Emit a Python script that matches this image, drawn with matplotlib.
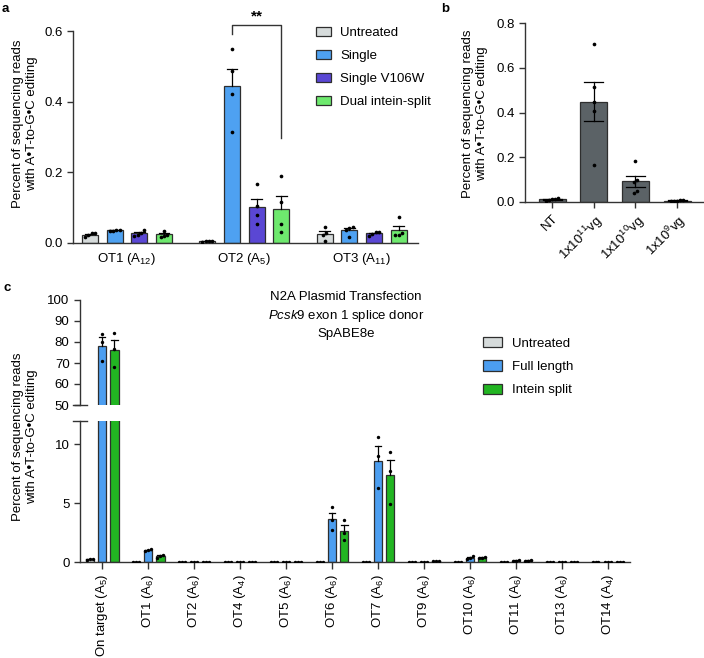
import numpy as np
import matplotlib.pyplot as plt
from matplotlib.patches import Patch

plt.rcParams['font.family'] = ['Liberation Sans', 'DejaVu Sans']
plt.rcParams['mathtext.fontset'] = 'custom'
plt.rcParams['mathtext.rm'] = 'Liberation Sans'
plt.rcParams['mathtext.it'] = 'Liberation Sans:italic'
plt.rcParams['font.size'] = 9.5
plt.rcParams['axes.linewidth'] = 1.0
plt.rcParams['axes.edgecolor'] = '#333333'
plt.rcParams['xtick.color'] = '#333333'
plt.rcParams['ytick.color'] = '#333333'
plt.rcParams['xtick.labelcolor'] = 'black'
plt.rcParams['ytick.labelcolor'] = 'black'

EDGE = '#2e2e2e'

# ---- panel a data ----
a_sites = [r'OT1 (A$_{\mathregular{12}}$)', r'OT2 (A$_{\mathregular{5}}$)', r'OT3 (A$_{\mathregular{11}}$)']
a_groups = ['Untreated', 'Single', 'Single V106W', 'Dual intein-split']
a_colors = ['#d6dbdb', '#4ea1f1', '#5a47d4', '#6ee96e']
a_untreated = [[0.016, 0.022, 0.027, 0.029], [0.004, 0.005, 0.006, 0.006], [0.005, 0.022, 0.028, 0.045]]
a_single = [[0.034, 0.035, 0.036, 0.037], [0.548, 0.486, 0.423, 0.315], [0.018, 0.036, 0.042, 0.046]]
a_v106w = [[0.020, 0.024, 0.028, 0.036], [0.167, 0.105, 0.080, 0.055], [0.020, 0.026, 0.030, 0.032]]
a_dual = [[0.018, 0.021, 0.024, 0.034], [0.190, 0.115, 0.055, 0.030], [0.022, 0.024, 0.028, 0.073]]

# ---- panel b data ----
b_doses = ['NT', r'1x10$^{\mathregular{11}}$vg', r'1x10$^{\mathregular{10}}$vg', r'1x10$^{\mathregular{9}}$vg']
b_points = [[0.004, 0.008, 0.010, 0.014, 0.018],
            [0.707, 0.514, 0.449, 0.407, 0.166],
            [0.182, 0.098, 0.088, 0.048, 0.040],
            [0.001, 0.004, 0.006, 0.008, 0.005]]

# ---- panel c data ----
c_sites = [r'On target (A$_{\mathregular{5}}$)', r'OT1 (A$_{\mathregular{6}}$)', r'OT2 (A$_{\mathregular{6}}$)',
           r'OT4 (A$_{\mathregular{4}}$)', r'OT5 (A$_{\mathregular{6}}$)', r'OT6 (A$_{\mathregular{6}}$)',
           r'OT7 (A$_{\mathregular{6}}$)', r'OT9 (A$_{\mathregular{6}}$)', r'OT10 (A$_{\mathregular{6}}$)',
           r'OT11 (A$_{\mathregular{6}}$)', r'OT13 (A$_{\mathregular{6}}$)', r'OT14 (A$_{\mathregular{4}}$)']
c_groups = ['Untreated', 'Full length', 'Intein split']
c_colors = ['#d6dbdb', '#4c9ef0', '#22b522']
c_untreated = [[0.20, 0.25, 0.30], [0.02, 0.02, 0.02], [0.02, 0.03, 0.02], [0.02, 0.02, 0.02],
               [0.02, 0.02, 0.02], [0.02, 0.02, 0.02], [0.02, 0.02, 0.02], [0.02, 0.02, 0.02],
               [0.02, 0.02, 0.02], [0.02, 0.02, 0.02], [0.02, 0.02, 0.02], [0.02, 0.02, 0.02]]
c_full = [[84.0, 80.0, 71.0], [0.95, 1.05, 1.10], [0.02, 0.02, 0.03], [0.02, 0.02, 0.02],
          [0.02, 0.02, 0.02], [4.65, 3.56, 2.77], [10.6, 9.0, 6.27], [0.02, 0.02, 0.02],
          [0.50, 0.40, 0.30], [0.12, 0.15, 0.18], [0.02, 0.02, 0.02], [0.02, 0.02, 0.02]]
c_intein = [[84.5, 76.5, 68.0], [0.40, 0.50, 0.65], [0.03, 0.02, 0.02], [0.02, 0.02, 0.02],
            [0.02, 0.02, 0.02], [3.56, 2.50, 1.93], [9.38, 7.76, 4.96], [0.08, 0.10, 0.12],
            [0.45, 0.40, 0.35], [0.12, 0.15, 0.18], [0.02, 0.02, 0.02], [0.02, 0.02, 0.02]]


def box(l, t, r, b):
    return [l / 704, 1 - b / 658, (r - l) / 704, (b - t) / 658]


def spread(vals, ytol, step):
    vals = np.asarray(vals, float)
    order = np.argsort(vals)
    offs = np.zeros(len(vals))
    clusters, cur = [], [order[0]]
    for i in order[1:]:
        if vals[i] - vals[cur[-1]] < ytol:
            cur.append(i)
        else:
            clusters.append(cur)
            cur = [i]
    clusters.append(cur)
    for c in clusters:
        n = len(c)
        for k, idx in enumerate(c):
            offs[idx] = (k - (n - 1) / 2) * step
    return offs


def draw_bar(ax, x, pts, color, width, cap, ytol, step, both=False, s=7):
    pts = np.asarray(pts, float)
    m = pts.mean()
    se = pts.std(ddof=1) / np.sqrt(len(pts))
    ax.bar(x, m, width, color=color, edgecolor=EDGE, linewidth=0.9, zorder=2)
    lo = m - se if both else m
    ax.plot([x, x], [lo, m + se], color='black', lw=0.9, zorder=3)
    ax.plot([x - cap, x + cap], [m + se, m + se], color='black', lw=0.9, zorder=3)
    if both:
        ax.plot([x - cap, x + cap], [lo, lo], color='black', lw=0.9, zorder=3)
    ax.scatter(x + spread(pts, ytol, step), pts, s=s, color='black', lw=0, zorder=4)


fig = plt.figure(figsize=(7.04, 6.58), dpi=100)

# ---------------- panel a ----------------
ax = fig.add_axes(box(73, 31, 418, 243))
a_data = [a_untreated, a_single, a_v106w, a_dual]
for gi, (grp, col) in enumerate(zip(a_data, a_colors)):
    for si in range(len(a_sites)):
        x = si + (gi - 1.5) * 0.21
        draw_bar(ax, x, grp[si], col, 0.137, 0.045, 0.0085, 0.028)
ax.set_xlim(-0.46, 2.48)
ax.set_ylim(0, 0.6)
ax.set_yticks([0, 0.2, 0.4, 0.6])
ax.set_yticklabels(['0.0', '0.2', '0.4', '0.6'])
ax.set_xticks(range(len(a_sites)))
ax.set_xticklabels(a_sites)
ax.tick_params(axis='x', length=0, pad=6)
ax.tick_params(axis='y', length=4, width=1)
for sp in ['top', 'right']:
    ax.spines[sp].set_visible(False)
x1 = 1 - 0.5 * 0.21
x2 = 1 + 1.5 * 0.21
ax.plot([x1, x1, x2, x2], [0.592, 0.617, 0.617, 0.296], color='#333333', lw=1, clip_on=False)
ax.text((x1 + x2) / 2, 0.642, '**', ha='center', va='center', fontsize=11, fontweight='bold')
fig.text(25 / 704, 1 - 124 / 658, 'Percent of sequencing reads\nwith A\u2022T-to-G\u2022C editing',
         rotation=90, ha='center', va='center', multialignment='center')
fig.legend([Patch(facecolor=c, edgecolor=EDGE, lw=0.9) for c in a_colors], a_groups,
           loc='upper left', bbox_to_anchor=(316 / 704, 1 - 27 / 658), frameon=False,
           borderpad=0, borderaxespad=0, handlelength=1.14, handleheight=0.68,
           handletextpad=0.7, labelspacing=0.82)

# ---------------- panel b ----------------
ax = fig.add_axes(box(525, 23.3, 703, 201.7))
for i, pts in enumerate(b_points):
    draw_bar(ax, i, pts, '#5b6266', 0.65, 0.23, 0.0135, 0.075, both=True)
ax.set_xlim(-0.65, 3.62)
ax.set_ylim(0, 0.8)
ax.set_yticks([0, 0.2, 0.4, 0.6, 0.8])
ax.set_yticklabels(['0.0', '0.2', '0.4', '0.6', '0.8'])
ax.set_xticks(range(len(b_doses)))
ax.set_xticklabels(b_doses, rotation=45, ha='right', rotation_mode='anchor')
ax.tick_params(length=4, width=1)
for sp in ['top', 'right']:
    ax.spines[sp].set_visible(False)
fig.text(475 / 704, 1 - 114 / 658, 'Percent of sequencing reads\nwith A\u2022T-to-G\u2022C editing',
         rotation=90, ha='center', va='center', multialignment='center')

# ---------------- panel c ----------------
axt = fig.add_axes(box(80, 300, 630, 405))
axb = fig.add_axes(box(80, 420.7, 630, 562.3))
c_data = [c_untreated, c_full, c_intein]
for a_ in (axt, axb):
    for gi, (grp, col) in enumerate(zip(c_data, c_colors)):
        for si in range(len(c_sites)):
            x = si + (gi - 1) * 0.27
            ytol = 0.25 if a_ is axb else 1.0
            draw_bar(a_, x, grp[si], col, 0.175, 0.07, ytol, 0.065, s=6)
    a_.set_xlim(-0.48, 11.48)
    for sp in ['top', 'right']:
        a_.spines[sp].set_visible(False)
    a_.tick_params(length=4, width=1)
axt.set_ylim(50, 100)
axt.set_yticks(range(50, 101, 10))
axt.spines['bottom'].set_visible(False)
axt.tick_params(axis='x', length=0, labelbottom=False)
axb.set_ylim(0, 12)
axb.set_yticks([0, 5, 10])
axb.set_xticks(range(len(c_sites)))
axb.set_xticklabels(c_sites, rotation=90)
axb.tick_params(axis='x', length=5)
# break markers
axt.plot([-0.012, 0.012], [0, 0], transform=axt.transAxes, color='#333333', lw=1, clip_on=False)
axb.plot([-0.012, 0.012], [1, 1], transform=axb.transAxes, color='#333333', lw=1, clip_on=False)

fig.text(25 / 704, 1 - 437 / 658, 'Percent of sequencing reads\nwith A\u2022T-to-G\u2022C editing',
         rotation=90, ha='center', va='center', multialignment='center')
fig.text(346 / 704, 1 - 297 / 658, 'N2A Plasmid Transfection', ha='center', va='center')
fig.text(346 / 704, 1 - 315.5 / 658, r'$\mathit{Pcsk9}$ exon 1 splice donor', ha='center', va='center')
fig.text(346 / 704, 1 - 334 / 658, 'SpABE8e', ha='center', va='center')
fig.legend([Patch(facecolor=c, edgecolor=EDGE, lw=0.9) for c in c_colors], c_groups,
           loc='upper left', bbox_to_anchor=(483 / 704, 1 - 337 / 658), frameon=False,
           borderpad=0, borderaxespad=0, handlelength=1.44, handleheight=0.83,
           handletextpad=0.75, labelspacing=0.8)

fig.text(2 / 704, 1 - 3 / 658, 'a', ha='left', va='top', fontweight='bold', fontsize=9.5)
fig.text(441 / 704, 1 - 3 / 658, 'b', ha='left', va='top', fontweight='bold', fontsize=9.5)
fig.text(3 / 704, 1 - 282 / 658, 'c', ha='left', va='top', fontweight='bold', fontsize=9.5)

fig.savefig('out.png', dpi=100)
